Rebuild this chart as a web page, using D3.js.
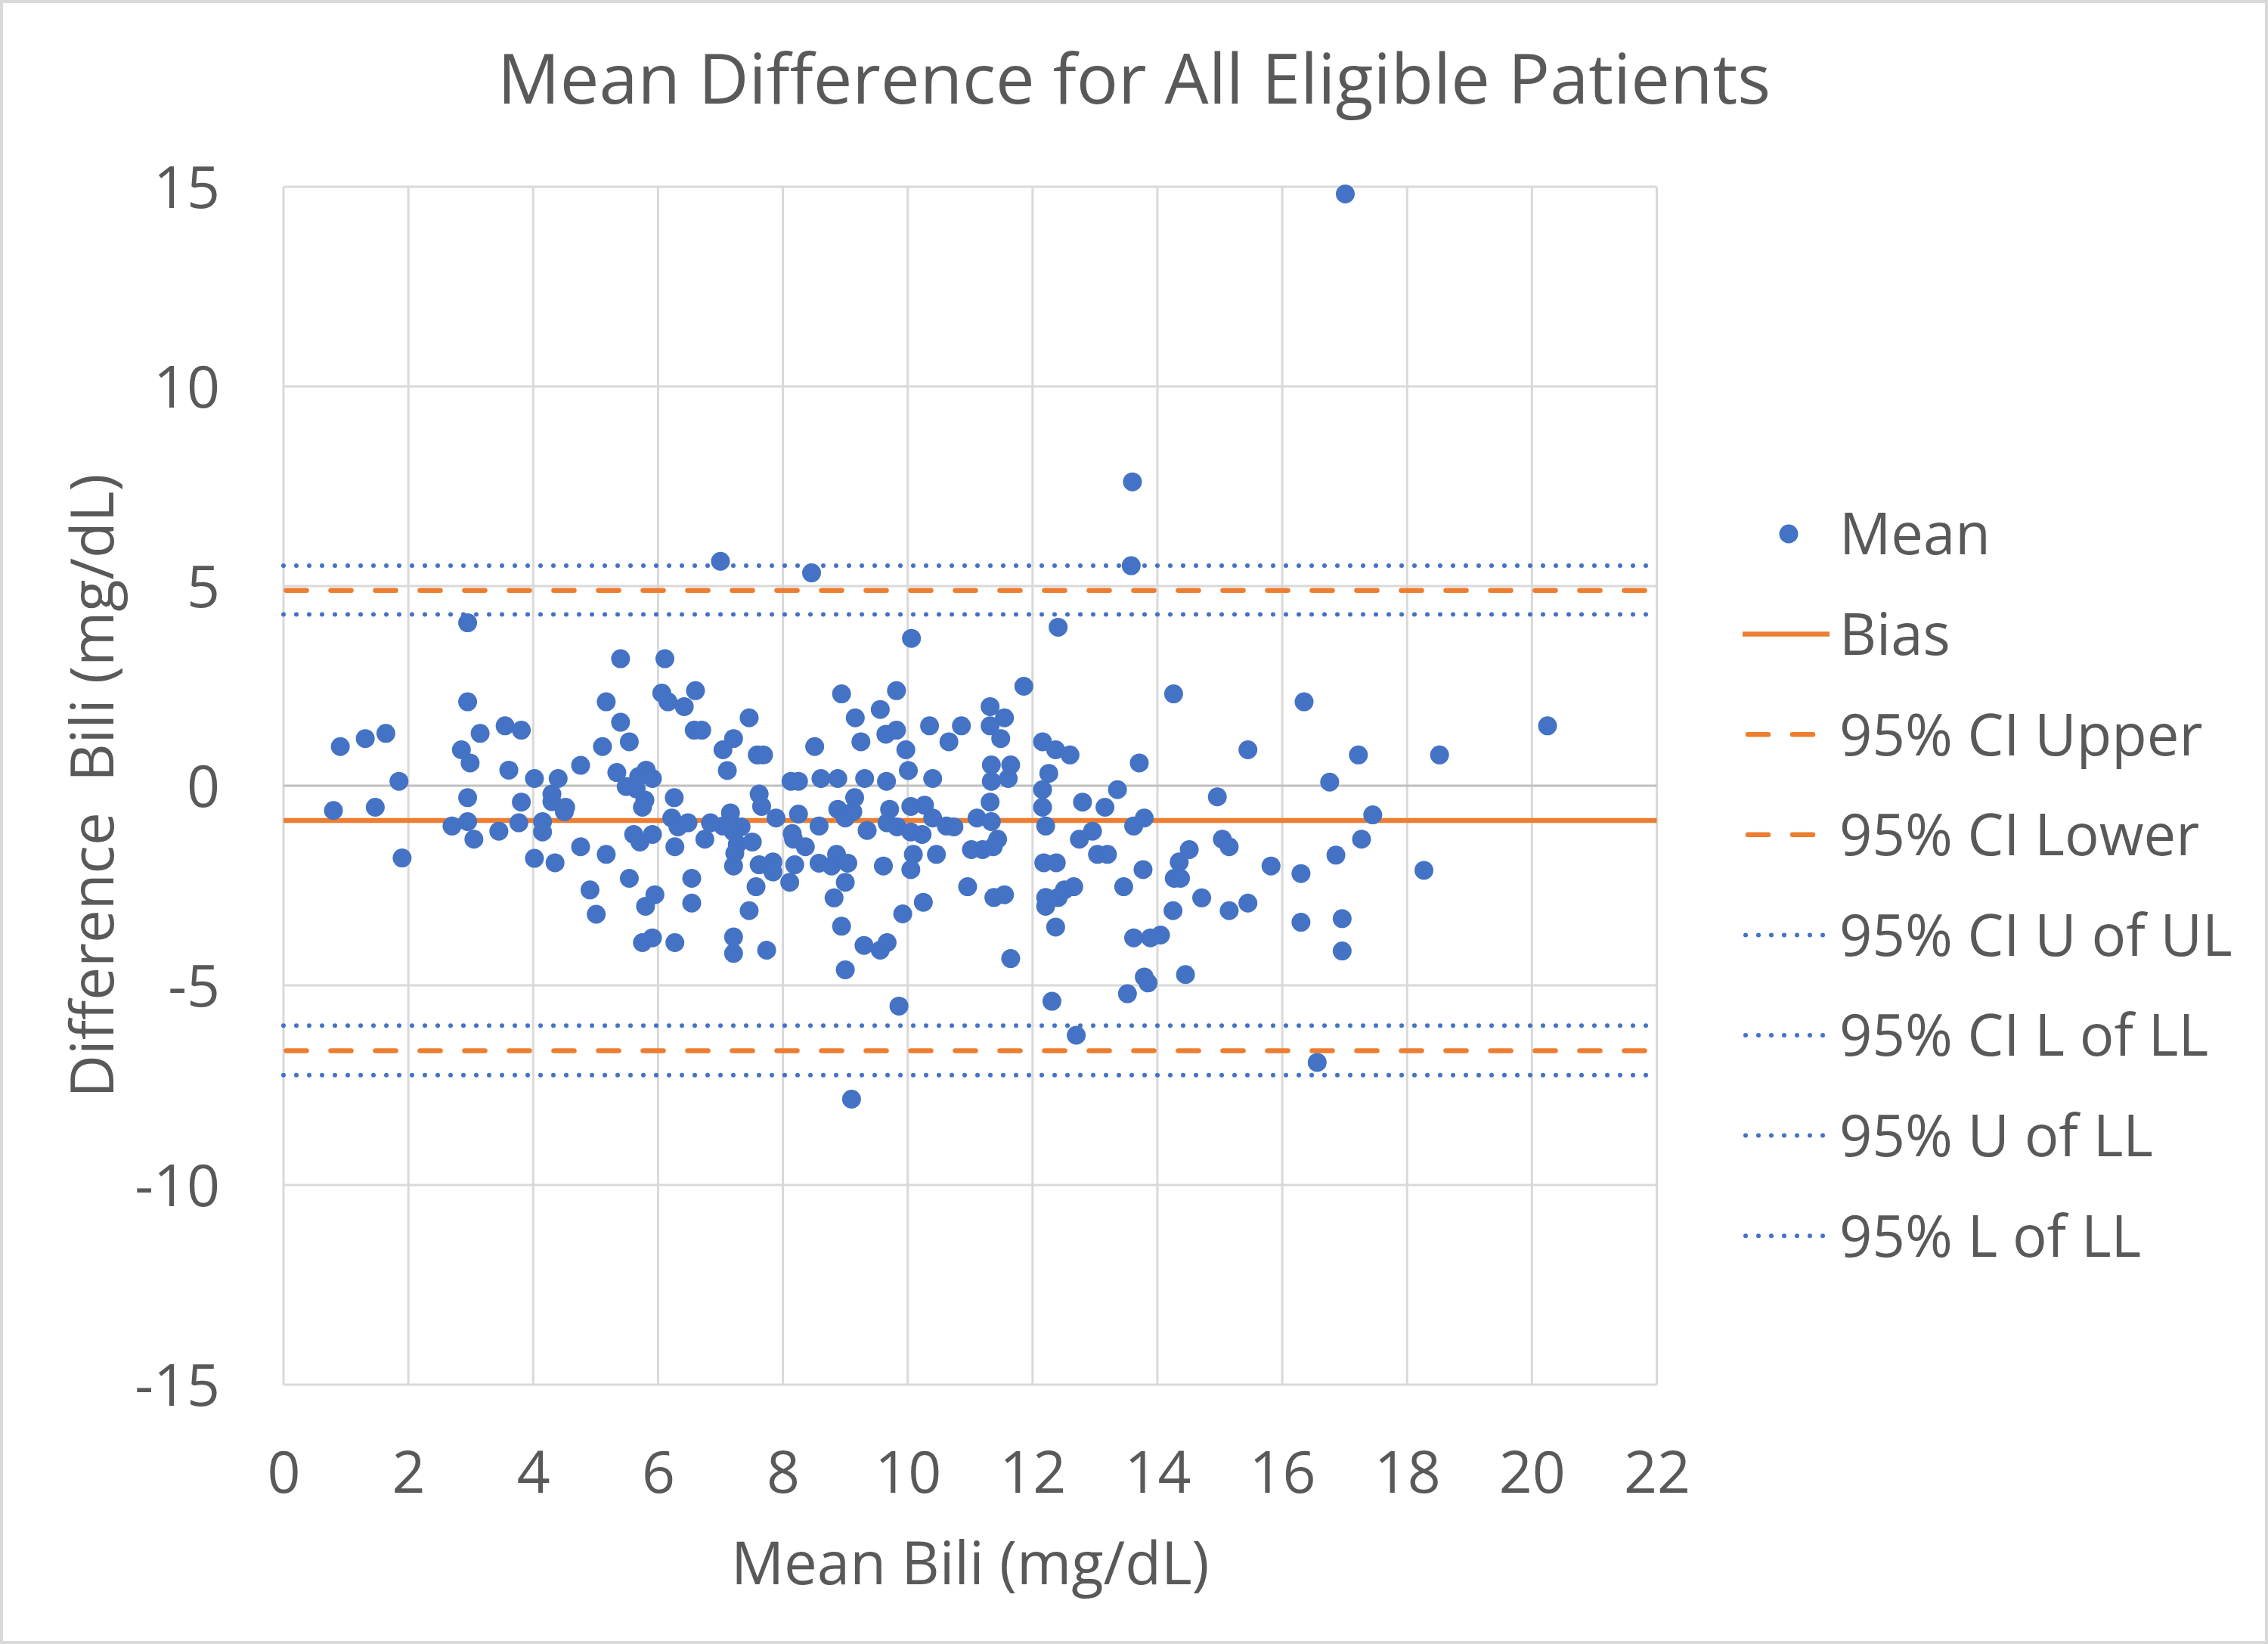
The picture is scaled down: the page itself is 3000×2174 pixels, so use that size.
<!DOCTYPE html>
<html>
<head>
<meta charset="utf-8">
<script src="https://cdn.jsdelivr.net/npm/d3@7"></script>
<style>
html, body { margin: 0; padding: 0; background: #ffffff; }
svg text { font-family: "Open Sans", "Noto Sans", sans-serif; fill: #595959; }
</style>
</head>
<body>
<svg id="chart" width="3000" height="2174"></svg>
<script>
// ---------- DATA ----------
const meanBili = [
  0.80,0.91,1.31,1.47,1.64,1.85,1.90,2.70,2.85,2.95,2.95,2.99,2.95,2.95,3.05,3.15,
  3.45,3.55,3.61,3.81,3.77,3.81,4.02,4.02,4.15,4.15,4.30,4.30,4.35,4.40,4.52,4.50,
  4.76,4.76,5.11,5.17,5.17,4.91,5.01,
  5.40,6.11,10.06,5.40,5.54,6.06,6.16,6.42,6.60,6.58,6.70,7.04,7.21,7.11,7.46,7.59,7.69,8.51,8.94,9.16,9.25,9.56,9.82,9.65,9.82,9.97,10.01,
  5.34,5.49,5.65,5.69,5.81,5.91,5.79,5.75,6.26,6.22,6.32,6.48,6.84,6.75,6.27,5.61,5.71,5.91,
  7.62,7.66,7.16,7.04,7.33,7.21,7.27,7.51,7.23,7.21,7.62,7.84,7.89,
  8.13,8.25,8.25,8.15,8.17,8.36,8.19,8.58,8.61,8.88,9.31,9.66,9.15,8.88,9.00,9.12,9.35,9.71,9.67,9.83,10.05,10.05,8.58,8.86,9.04,9.61,10.09,10.05,8.78,
  5.54,5.80,5.95,5.75,5.91,6.27,6.54,6.54,7.84,8.11,7.57,7.46,7.21,7.21,7.74,9.00,8.82,8.94,9.00,9.30,9.56,9.67,9.92,9.86,9.10,
  11.86,12.41,14.26,10.35,10.66,10.86,11.32,11.55,11.32,11.49,10.40,11.34,11.65,11.34,11.61,12.16,12.37,12.60,12.26,13.71,
  12.16,12.16,12.80,13.16,13.36,12.21,12.75,12.96,13.62,13.79,13.04,13.20,12.18,12.38,13.77,14.96,14.51,14.35,
  10.27,10.40,10.62,10.74,10.23,10.46,11.11,11.34,11.44,11.37,11.20,11.02,11.32,
  10.96,10.25,11.38,11.55,11.65,12.21,12.21,12.41,12.51,12.66,12.37,12.31,12.70,13.46,13.62,13.89,14.05,13.79,13.85,13.52,14.45,14.25,14.71,14.27,14.37,
  16.35,15.45,17.22,18.52,20.25,16.76,17.45,15.04,15.15,17.27,16.86,15.82,16.30,18.27,
  15.15,15.45,16.30,16.96,16.96,16.56,
  17.01,13.60,7.00,8.46,13.58
];
const diffBili = [
  -0.62,0.98,1.18,-0.54,1.31,0.11,-1.81,-1.01,0.90,4.08,2.10,0.57,-0.30,-0.90,-1.34,1.31,
  -1.14,1.50,0.39,1.39,-0.93,-0.41,0.18,-1.82,-0.90,-1.16,-0.21,-0.40,-1.93,0.18,-0.54,-0.65,
  0.51,-1.53,0.98,2.10,-1.72,-2.61,-3.22,
  3.18,3.18,3.69,1.59,1.10,2.32,2.10,1.98,2.38,1.39,1.39,0.90,1.18,0.38,1.70,0.77,0.77,0.98,2.30,1.70,1.10,1.91,2.38,1.29,1.39,0.90,0.38,
  0.33,-0.02,-0.08,0.23,0.39,0.18,-0.36,-0.54,-0.30,-0.81,-1.03,-0.93,-0.93,-1.34,-1.53,-1.22,-1.41,-1.22,
  -0.21,-0.52,-0.68,-1.01,-1.03,-1.16,-1.47,-1.41,-1.69,-2.01,-1.98,-1.91,-0.81,
  0.11,0.11,-0.71,-1.20,-1.34,-1.53,-1.98,-1.01,0.18,0.18,0.18,0.11,-0.30,-0.59,-0.81,-0.65,-1.12,-0.59,-0.93,-1.03,-0.52,-1.16,-1.94,-1.72,-1.94,-2.01,-1.72,-2.10,-2.01,
  -2.32,-3.02,-2.73,-3.93,-3.81,-3.93,-2.32,-2.94,-2.16,-2.42,-2.53,-3.13,-3.79,-4.20,-4.12,-2.42,-2.81,-3.52,-4.61,-4.00,-4.12,-3.93,-3.21,-5.52,-7.85,
  2.49,3.97,2.30,1.50,1.10,1.50,1.98,1.70,1.50,1.18,0.18,0.52,0.52,0.11,0.18,1.10,0.90,0.77,0.31,0.57,
  -0.10,-0.54,-0.41,-0.54,-0.10,-1.01,-1.34,-1.14,-1.01,-0.81,-1.72,-1.72,-1.93,-1.93,-2.10,-0.28,-1.60,-1.91,
  -0.49,-0.81,-1.01,-1.03,-1.22,-1.72,-0.81,-0.90,-1.34,-1.53,-1.60,-1.60,-0.41,
  -2.53,-2.92,-2.80,-2.73,-4.33,-2.80,-3.02,-2.80,-2.61,-2.53,-3.54,-5.40,-6.25,-2.53,-3.81,-3.81,-3.74,-4.79,-4.94,-5.21,-4.73,-3.13,-2.81,-2.32,-2.32,
  2.10,0.90,0.77,0.77,1.50,0.09,-0.73,-1.34,-1.53,-1.34,-1.74,-2.01,-2.20,-2.12,
  -3.13,-2.94,-3.42,-3.33,-4.14,-6.93,
  14.82,7.61,5.62,5.33,5.51
];
const xTicks = [0, 2, 4, 6, 8, 10, 12, 14, 16, 18, 20, 22];
const yTicks = [-15, -10, -5, 0, 5, 10, 15];
const yTickLabels = ["-15", "-10", "-5", "0", "5", "10", "15"];
const refLabels = ["Bias", "95% CI Upper", "95% CI Lower", "95% CI U of UL", "95% CI L of LL", "95% U of LL", "95% L of LL"];
const refValues = [-0.87, 4.89, -6.64, 5.51, 4.29, -6.01, -7.25];
const seriesLabels = ["Mean"].concat(refLabels);
const titleText = "Mean Difference for All Eligible Patients";
const xTitle = "Mean Bili (mg/dL)";
const yTitle = "Difference  Bili (mg/dL)";

// ---------- STYLE / LAYOUT ----------
const BLUE = "#4472C4", ORANGE = "#ED7D31", GRID = "#D9D9D9", AXIS = "#BFBFBF";
const refStyle = ["solid", "dash", "dash", "dot", "dot", "dot", "dot"];
const plot = { left: 375, right: 2191.5, top: 247, bottom: 1831 };

const svg = d3.select("#chart");
svg.append("rect").attr("x", 0).attr("y", 0).attr("width", 3000).attr("height", 2174).attr("fill", "#fff");
svg.append("rect").attr("x", 2).attr("y", 2).attr("width", 2996).attr("height", 2170)
  .attr("fill", "none").attr("stroke", GRID).attr("stroke-width", 4);

const x = d3.scaleLinear().domain([0, 22]).range([plot.left, plot.right]);
const y = d3.scaleLinear().domain([-15, 15]).range([plot.bottom, plot.top]);

// gridlines
const grid = svg.append("g");
grid.selectAll("line.v").data(xTicks).enter().append("line")
  .attr("x1", d => x(d)).attr("x2", d => x(d))
  .attr("y1", plot.top).attr("y2", plot.bottom)
  .attr("stroke", GRID).attr("stroke-width", 3);
grid.selectAll("line.h").data(yTicks).enter().append("line")
  .attr("x1", plot.left).attr("x2", plot.right)
  .attr("y1", d => y(d)).attr("y2", d => y(d))
  .attr("stroke", d => d === 0 ? AXIS : GRID).attr("stroke-width", 3);

// axes labels
const yAxis = d3.axisLeft(y).tickValues(yTicks).tickSize(0).tickPadding(0)
  .tickFormat(d => yTickLabels[yTicks.indexOf(d)]);
const gy = svg.append("g").attr("transform", "translate(291,0)").call(yAxis);
gy.select(".domain").remove();
gy.selectAll("text").attr("font-size", 77).attr("font-family", null).attr("dy", "0.36em");

const xAxis = d3.axisBottom(x).tickValues(xTicks).tickSize(0).tickPadding(88).tickFormat(d3.format("d"));
const gx = svg.append("g").attr("transform", `translate(0,${plot.bottom})`).call(xAxis);
gx.select(".domain").remove();
gx.selectAll("text").attr("font-size", 77).attr("font-family", null);
svg.selectAll(".tick text").style("fill", "#595959");

// reference lines
function styleLine(sel, kind) {
  sel.attr("fill", "none");
  if (kind === "solid") sel.attr("stroke", ORANGE).attr("stroke-width", 6.5);
  else if (kind === "dash") sel.attr("stroke", ORANGE).attr("stroke-width", 6.5)
    .attr("stroke-dasharray", "27 32").attr("stroke-linecap", "round");
  else sel.attr("stroke", BLUE).attr("stroke-width", 6)
    .attr("stroke-dasharray", "0 17").attr("stroke-linecap", "round");
}
const refG = svg.append("g");
refValues.forEach((v, i) => {
  const ln = refG.append("line")
    .attr("x1", x(0) + (refStyle[i] === "dash" ? 3.5 : 0)).attr("x2", x(22))
    .attr("y1", y(v)).attr("y2", y(v));
  styleLine(ln, refStyle[i]);
});

// points
const pts = d3.range(meanBili.length).map(i => [meanBili[i], diffBili[i]]);
svg.append("g").selectAll("circle").data(pts).enter().append("circle")
  .attr("cx", d => x(d[0])).attr("cy", d => y(d[1])).attr("r", 12.5)
  .attr("fill", BLUE);

// title
svg.append("text").attr("x", 1500).attr("y", 137).attr("text-anchor", "middle")
  .attr("font-size", 92).text(titleText);
// axis titles
svg.append("text").attr("x", (plot.left + plot.right) / 2).attr("y", 2095).attr("text-anchor", "middle")
  .attr("font-size", 78).text(xTitle);
svg.append("text").attr("transform", `translate(150,${(plot.top + plot.bottom) / 2}) rotate(-90)`)
  .attr("text-anchor", "middle").attr("font-size", 78).style("white-space", "pre").text(yTitle);

// legend
const legY = i => 706 + i * 132.6;
const leg = svg.append("g");
seriesLabels.forEach((lab, i) => {
  const cy = legY(i);
  if (i === 0) {
    leg.append("circle").attr("cx", 2366).attr("cy", cy).attr("r", 12.5).attr("fill", BLUE);
  } else {
    const kind = refStyle[i - 1];
    const ln = leg.append("line").attr("y1", cy).attr("y2", cy)
      .attr("x1", kind === "dash" ? 2312 : (kind === "dot" ? 2309 : 2305))
      .attr("x2", kind === "dot" ? 2416 : 2420);
    styleLine(ln, kind);
  }
  leg.append("text").attr("x", 2433).attr("y", cy).attr("dy", "0.36em")
    .attr("font-size", 76).text(lab);
});
</script>
</body>
</html>
